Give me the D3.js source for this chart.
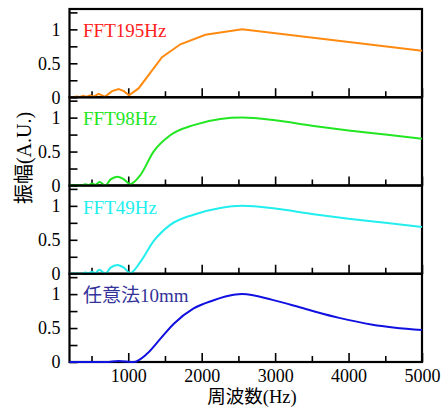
<!DOCTYPE html>
<html>
<head>
<meta charset="utf-8">
<script src="https://cdn.jsdelivr.net/npm/d3@7"></script>
<style>
  body { margin: 0; background: #fff; }
  text { font-family: "Liberation Serif", "Times New Roman", "Noto Sans CJK JP", serif; }
</style>
</head>
<body>
<svg id="chart" width="444" height="410"></svg>
<script>
  // values: [frequency Hz, amplitude]
  const fft195 = [[200, 0], [260, 0.005], [300, 0.01], [340, 0.005], [390, 0.02], [430, 0.005], [480, 0.03], [530, 0.01],
    [595, 0.05], [685, 0.01], [780, 0.09], [870, 0.12], [940, 0.09], [1010, 0.03], [1140, 0.13], [1460, 0.59],
    [1710, 0.78], [2050, 0.92], [2550, 1.0], [5000, 0.685]];
  const fft98 = [[200, 0], [300, 0.005], [350, 0.0], [420, 0.02], [460, 0.005], [505, 0.03], [550, 0.01], [608, 0.05],
    [685, 0.0], [760, 0.09], [853, 0.13], [940, 0.09], [1026, 0.02], [1163, 0.15], [1345, 0.5], [1572, 0.74],
    [1890, 0.89], [2254, 0.98], [2550, 1.0], [3000, 0.96], [3500, 0.88], [4000, 0.81], [4500, 0.75], [5000, 0.69]];
  const fft49 = [[200, 0], [300, 0.005], [350, 0.0], [420, 0.02], [460, 0.005], [505, 0.03], [550, 0.01], [608, 0.06],
    [685, 0.0], [760, 0.09], [853, 0.13], [940, 0.09], [1026, 0.01], [1163, 0.17], [1345, 0.48], [1572, 0.72],
    [1890, 0.87], [2254, 0.97], [2550, 1.0], [3000, 0.96], [3500, 0.88], [4000, 0.81], [4500, 0.75], [5000, 0.69]];
  const arbitrary10 = [[200, 0], [700, 0.0], [867, 0.015], [1071, 0], [1254, 0.12], [1436, 0.34], [1617, 0.56],
    [1890, 0.79], [2163, 0.91], [2436, 0.99], [2554, 1.0], [2963, 0.915], [3417, 0.78], [3872, 0.65], [4327, 0.55], [5000, 0.47]];

  const panels = [
    { label: "FFT195Hz", data: fft195, line: "#ff8a10", textColor: "#ff2020", curve: d3.curveLinear },
    { label: "FFT98Hz", data: fft98, line: "#22e622", textColor: "#22e622", curve: d3.curveMonotoneX },
    { label: "FFT49Hz", data: fft49, line: "#22eeee", textColor: "#22eeee", curve: d3.curveMonotoneX },
    { label: "任意法10mm", data: arbitrary10, line: "#1010e0", textColor: "#33339a", curve: d3.curveMonotoneX }
  ];
  const xMajor = [1000, 2000, 3000, 4000, 5000];
  const xMinor = [500, 1500, 2500, 3500, 4500];
  const yMajor = [0, 0.5, 1];
  const yMinor = [0.25, 0.75, 1.25];

  const margin = { top: 9, right: 22, bottom: 48, left: 69.5 };
  const svg = d3.select("#chart"),
    width = +svg.attr("width") - margin.left - margin.right,
    height = +svg.attr("height") - margin.top - margin.bottom,
    ph = height / panels.length;

  const x = d3.scaleLinear().domain([200, 5000]).range([0, width]);
  const y = d3.scaleLinear().domain([0, 1.3]).range([ph, 0]);

  const g = svg.append("g").attr("transform", `translate(${margin.left},${margin.top})`);

  panels.forEach(function (p, i) {
    const pg = g.append("g").attr("transform", `translate(0,${i * ph})`);

    pg.append("rect")
      .attr("width", width).attr("height", ph)
      .attr("fill", "none").attr("stroke", "#000").attr("stroke-width", 2.2);

    // ticks point inward
    pg.append("g").attr("transform", `translate(0,${ph})`)
      .call(d3.axisBottom(x).tickValues(xMajor).tickSize(-9).tickPadding(7)
        .tickFormat(i === panels.length - 1 ? d3.format("d") : ""));
    pg.append("g").attr("transform", `translate(0,${ph})`)
      .call(d3.axisBottom(x).tickValues(xMinor).tickSize(-6).tickFormat(""));
    pg.append("g")
      .call(d3.axisLeft(y).tickValues(yMajor).tickSize(-8).tickPadding(9).tickFormat(d3.format("")));
    pg.append("g")
      .call(d3.axisLeft(y).tickValues(yMinor).tickSize(-8).tickFormat(""));

    // curve on top of the frame, as in the original
    pg.append("path")
      .datum(p.data)
      .attr("fill", "none")
      .attr("stroke", p.line)
      .attr("stroke-width", 2)
      .attr("d", d3.line().curve(p.curve).x(d => x(d[0])).y(d => y(d[1])));

    pg.append("text")
      .attr("x", 13.5).attr("y", 28)
      .attr("fill", p.textColor)
      .style("font-size", "19px")
      .text(p.label);
  });

  g.selectAll(".domain").remove();
  g.selectAll(".tick line").attr("stroke", "#000").attr("stroke-width", 1.6);
  g.selectAll(".tick text").attr("fill", "#000").style("font-size", "18px");

  svg.append("text")
    .attr("transform", "translate(31,158) rotate(-90)")
    .attr("text-anchor", "middle")
    .style("font-size", "20px")
    .text("振幅(A.U.)");

  svg.append("text")
    .attr("x", 252).attr("y", 403)
    .attr("text-anchor", "middle")
    .style("font-size", "18.5px")
    .text("周波数(Hz)");
</script>
</body>
</html>
